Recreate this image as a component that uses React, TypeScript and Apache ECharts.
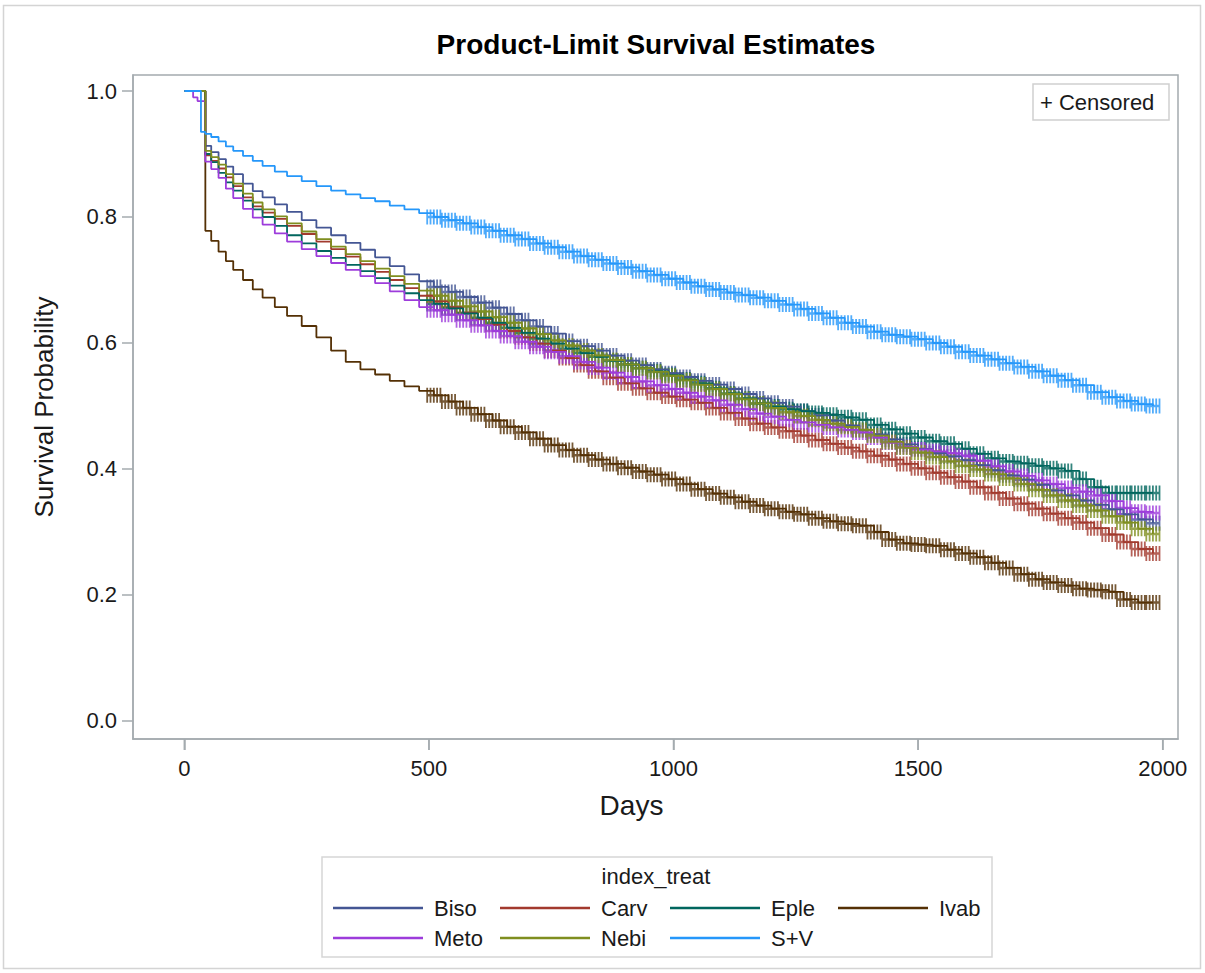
import React, { useEffect, useRef } from "react";
import * as echarts from "echarts";

// Shared time grid (days)
const days = [
  0, 18, 27, 34, 43, 55, 70, 85, 100, 120, 140, 160, 185, 210, 240, 270, 300, 330, 360, 390, 420, 450, 480, 510,
  540, 570, 600, 630, 660, 690, 720, 750, 780, 810,
  840, 870, 900, 930, 960, 990, 1020, 1050, 1080, 1110,
  1140, 1170, 1200, 1230, 1260, 1290, 1320, 1350, 1380, 1410,
  1440, 1470, 1500, 1530, 1560, 1590, 1620, 1650, 1680, 1710,
  1740, 1770, 1800, 1830, 1860, 1890, 1920, 1950, 1980,
];

const groups = ["Biso", "Carv", "Eple", "Ivab", "Meto", "Nebi", "S+V"];

const biso = [
  1, 1, 1, 1, 0.913, 0.903, 0.892, 0.88, 0.868, 0.853, 0.841, 0.831, 0.82, 0.808, 0.795, 0.783, 0.771, 0.759, 0.748, 0.736, 0.722, 0.709, 0.698, 0.689,
  0.681, 0.673, 0.664, 0.656, 0.646, 0.636, 0.626, 0.615, 0.603, 0.595,
  0.588, 0.58, 0.572, 0.565, 0.558, 0.552, 0.546, 0.54, 0.534, 0.527,
  0.519, 0.512, 0.505, 0.499, 0.492, 0.485, 0.477, 0.469, 0.462, 0.455,
  0.447, 0.439, 0.432, 0.425, 0.42, 0.414, 0.406, 0.398, 0.39, 0.383,
  0.375, 0.366, 0.358, 0.35, 0.343, 0.336, 0.328, 0.32, 0.314,
];
const carv = [
  1, 1, 1, 1, 0.898, 0.889, 0.877, 0.863, 0.849, 0.831, 0.817, 0.807, 0.797, 0.786, 0.773, 0.761, 0.749, 0.737, 0.725, 0.713, 0.7, 0.687, 0.675, 0.666,
  0.657, 0.648, 0.638, 0.629, 0.619, 0.609, 0.599, 0.588, 0.576, 0.565,
  0.555, 0.545, 0.536, 0.528, 0.521, 0.515, 0.51, 0.505, 0.497, 0.489,
  0.48, 0.472, 0.466, 0.46, 0.453, 0.446, 0.44, 0.434, 0.428, 0.421,
  0.415, 0.408, 0.401, 0.394, 0.387, 0.38, 0.371, 0.362, 0.353, 0.345,
  0.337, 0.329, 0.322, 0.315, 0.306, 0.296, 0.284, 0.273, 0.266,
];
const eple = [
  1, 1, 1, 1, 0.9, 0.887, 0.87, 0.855, 0.842, 0.826, 0.812, 0.8, 0.786, 0.771, 0.758, 0.746, 0.735, 0.724, 0.714, 0.703, 0.691, 0.679, 0.668, 0.662,
  0.655, 0.647, 0.64, 0.632, 0.624, 0.616, 0.607, 0.599, 0.591, 0.584,
  0.578, 0.572, 0.566, 0.56, 0.555, 0.549, 0.542, 0.536, 0.528, 0.52,
  0.512, 0.504, 0.499, 0.495, 0.492, 0.489, 0.486, 0.482, 0.478, 0.47,
  0.463, 0.456, 0.45, 0.444, 0.44, 0.432, 0.424, 0.417, 0.412, 0.409,
  0.405, 0.401, 0.397, 0.384, 0.371, 0.362, 0.362, 0.362, 0.362,
];
const ivab = [
  1, 1, 1, 1, 0.778, 0.762, 0.745, 0.73, 0.716, 0.7, 0.685, 0.672, 0.657, 0.643, 0.627, 0.609, 0.588, 0.57, 0.558, 0.55, 0.54, 0.531, 0.524, 0.517,
  0.507, 0.497, 0.487, 0.477, 0.467, 0.458, 0.448, 0.438, 0.43, 0.422,
  0.415, 0.408, 0.402, 0.396, 0.391, 0.384, 0.376, 0.368, 0.361, 0.355,
  0.348, 0.342, 0.337, 0.332, 0.328, 0.322, 0.317, 0.313, 0.31, 0.3,
  0.288, 0.282, 0.28, 0.278, 0.272, 0.266, 0.26, 0.251, 0.243, 0.233,
  0.225, 0.22, 0.215, 0.21, 0.208, 0.205, 0.193, 0.188, 0.188,
];
const meto = [
  1, 0.99, 0.984, 0.984, 0.888, 0.876, 0.862, 0.845, 0.83, 0.813, 0.799, 0.788, 0.774, 0.761, 0.749, 0.738, 0.727, 0.716, 0.706, 0.695, 0.682, 0.668, 0.657, 0.652,
  0.645, 0.636, 0.628, 0.619, 0.611, 0.602, 0.594, 0.586, 0.579, 0.57,
  0.561, 0.553, 0.546, 0.539, 0.533, 0.527, 0.521, 0.515, 0.509, 0.502,
  0.495, 0.488, 0.483, 0.478, 0.474, 0.47, 0.466, 0.462, 0.458, 0.45,
  0.442, 0.435, 0.431, 0.428, 0.425, 0.421, 0.413, 0.404, 0.396, 0.389,
  0.382, 0.376, 0.37, 0.364, 0.358, 0.349, 0.338, 0.332, 0.33,
];
const nebi = [
  1, 1, 1, 1, 0.905, 0.895, 0.883, 0.868, 0.853, 0.837, 0.823, 0.812, 0.801, 0.79, 0.777, 0.765, 0.753, 0.741, 0.73, 0.718, 0.706, 0.694, 0.683, 0.675,
  0.667, 0.658, 0.65, 0.641, 0.632, 0.623, 0.614, 0.604, 0.596, 0.588,
  0.58, 0.573, 0.566, 0.56, 0.554, 0.548, 0.541, 0.534, 0.527, 0.519,
  0.511, 0.504, 0.497, 0.49, 0.484, 0.478, 0.472, 0.467, 0.462, 0.453,
  0.443, 0.434, 0.426, 0.419, 0.412, 0.405, 0.399, 0.392, 0.385, 0.376,
  0.367, 0.358, 0.35, 0.342, 0.334, 0.325, 0.315, 0.305, 0.297,
];
const sv = [
  1, 1, 1, 0.935, 0.932, 0.927, 0.92, 0.912, 0.905, 0.897, 0.889, 0.881, 0.872, 0.865, 0.857, 0.849, 0.842, 0.836, 0.83, 0.825, 0.818, 0.812, 0.806, 0.8,
  0.795, 0.79, 0.784, 0.778, 0.771, 0.765, 0.758, 0.752, 0.745, 0.738,
  0.732, 0.726, 0.72, 0.714, 0.708, 0.702, 0.696, 0.69, 0.685, 0.68,
  0.676, 0.672, 0.667, 0.661, 0.654, 0.647, 0.64, 0.632, 0.626, 0.618,
  0.613, 0.61, 0.606, 0.6, 0.594, 0.586, 0.58, 0.574, 0.568, 0.562,
  0.555, 0.548, 0.541, 0.533, 0.522, 0.514, 0.508, 0.503, 0.5,
];

const survival = [biso, carv, eple, ivab, meto, nebi, sv];
const colors = ["#445694", "#A23A2E", "#01665E", "#543005", "#9D3CDB", "#7F8E1F", "#2597FA"];

const xTicks = [0, 500, 1000, 1500, 2000];
const yTicks = [0, 0.2, 0.4, 0.6, 0.8, 1.0];
const censorFromDay = 510;

const FONT = "'Liberation Sans', Arial, sans-serif";
const TEXT = "#1a1a1a";
const FRAME = "#a4abaf";

// censored "+" marks, drawn as a run of overlapping plus signs
const plusPath =
  "path://M0 12.5L30 12.5L30 17.5L0 17.5Z " +
  "M0 0L3.6 0L3.6 30L0 30Z M6.6 0L10.2 0L10.2 30L6.6 30Z M13.2 0L16.8 0L16.8 30L13.2 30Z " +
  "M19.8 0L23.4 0L23.4 30L19.8 30Z M26.4 0L30 0L30 30L26.4 30Z";

const legendPos: Record<string, [number, number]> = {
  Biso: [333, 897],
  Carv: [500, 897],
  Eple: [670, 897],
  Ivab: [838, 897],
  Meto: [333, 927],
  Nebi: [500, 927],
  "S+V": [670, 927],
};

const X_MIN = -104.9;
const X_MAX = 2031.3;
const Y_MIN = -0.0286;
const Y_MAX = 1.0254;

export default function App() {
  const ref = useRef<HTMLDivElement>(null);
  useEffect(() => {
    if (!ref.current) return;
    const chart = echarts.init(ref.current, undefined, { renderer: "svg" });

    const series: any[] = [];
    groups.forEach((g, i) => {
      const pts = days.map((d, j) => [d, survival[i][j]]);
      series.push({
        type: "line",
        name: g,
        step: "end",
        data: pts,
        symbol: "none",
        showSymbol: false,
        lineStyle: { width: 1.8, color: colors[i] },
        itemStyle: { color: colors[i] },
        silent: true,
      });
      series.push({
        type: "scatter",
        name: g + " (censored)",
        data: pts.filter((p) => p[0] >= censorFromDay),
        symbol: plusPath,
        symbolSize: [15, 15],
        symbolKeepAspect: false,
        itemStyle: { color: colors[i] },
        silent: true,
      });
    });

    const legends = groups.map((g) => ({
      data: [g],
      left: legendPos[g][0],
      top: legendPos[g][1],
      padding: 0,
      icon: "rect",
      itemWidth: 90,
      itemHeight: 2.5,
      selectedMode: false,
      textStyle: { fontFamily: FONT, fontSize: 22, color: TEXT, padding: [0, 0, 0, 6] },
    }));

    const axisLine = { show: true, onZero: false, lineStyle: { color: FRAME, width: 1.5 } };

    const staticGraphics: any[] = [
      {
        type: "rect",
        shape: { x: 3.5, y: 5.5, width: 1197, height: 963 },
        style: { fill: "none", stroke: "#d4d4d4", lineWidth: 1.5 },
        silent: true,
      },
      {
        type: "rect",
        shape: { x: 1033, y: 84, width: 136, height: 36 },
        style: { fill: "#fff", stroke: "#d0d0d0", lineWidth: 1.5 },
        silent: true,
        z: 10,
      },
      {
        type: "text",
        x: 1040,
        y: 102,
        style: { text: "+ Censored", font: `22px ${FONT}`, fill: TEXT, textVerticalAlign: "middle" },
        silent: true,
        z: 11,
      },
      {
        type: "rect",
        shape: { x: 322, y: 857, width: 670, height: 100 },
        style: { fill: "none", stroke: "#d6d6d6", lineWidth: 1.5 },
        silent: true,
      },
      {
        type: "text",
        x: 656,
        y: 876,
        style: {
          text: "index_treat",
          font: `22px ${FONT}`,
          fill: TEXT,
          textAlign: "center",
          textVerticalAlign: "middle",
        },
        silent: true,
      },
    ];

    chart.setOption({
      animation: false,
      backgroundColor: "#ffffff",
      title: {
        text: "Product-Limit Survival Estimates",
        left: 656,
        top: 30,
        textAlign: "center",
        padding: 0,
        textStyle: { fontFamily: FONT, fontSize: 28, fontWeight: "bold", color: "#000" },
      },
      grid: {
        left: 133,
        top: 75,
        right: 27,
        bottom: 234,
        show: true,
        borderColor: FRAME,
        borderWidth: 1.5,
        backgroundColor: "transparent",
      },
      legend: legends,
      xAxis: {
        type: "value",
        position: "bottom",
        min: X_MIN,
        max: X_MAX,
        name: "Days",
        nameLocation: "middle",
        nameGap: 52,
        nameTextStyle: { fontFamily: FONT, fontSize: 28, color: TEXT, padding: [0, 48, 0, 0] },
        axisLine,
        splitLine: { show: false },
        axisTick: {
          show: true,
          inside: false,
          length: 11,
          customValues: xTicks,
          lineStyle: { color: FRAME, width: 1.5 },
        },
        axisLabel: {
          customValues: xTicks,
          margin: 18,
          fontFamily: FONT,
          fontSize: 22,
          color: TEXT,
          formatter: (v: number) => String(v),
        },
      },
      yAxis: {
        type: "value",
        position: "left",
        min: Y_MIN,
        max: Y_MAX,
        name: "Survival Probability",
        nameLocation: "middle",
        nameGap: 76,
        nameTextStyle: { fontFamily: FONT, fontSize: 26, color: TEXT },
        axisLine,
        splitLine: { show: false },
        axisTick: {
          show: true,
          inside: false,
          length: 11,
          customValues: yTicks,
          lineStyle: { color: FRAME, width: 1.5 },
        },
        axisLabel: {
          customValues: yTicks,
          margin: 16,
          fontFamily: FONT,
          fontSize: 22,
          color: TEXT,
          formatter: (v: number) => v.toFixed(1),
        },
      },
      graphic: staticGraphics,
      series,
    });

    // Outward x-axis tick marks placed through the axis scale
    const bottom = chart.convertToPixel({ yAxisIndex: 0 }, Y_MIN) as number;
    const tickGraphics = xTicks.map((v) => {
      const px = chart.convertToPixel({ xAxisIndex: 0 }, v) as number;
      return {
        type: "line",
        shape: { x1: px, y1: bottom, x2: px, y2: bottom + 11 },
        style: { stroke: FRAME, lineWidth: 1.5 },
        silent: true,
      };
    });
    chart.setOption({ graphic: [...staticGraphics, ...tickGraphics] });

    return () => chart.dispose();
  }, []);

  return (
    <div
      ref={ref}
      style={{ position: "absolute", left: 0, top: 0, width: 1205, height: 973, background: "#fff" }}
    />
  );
}
